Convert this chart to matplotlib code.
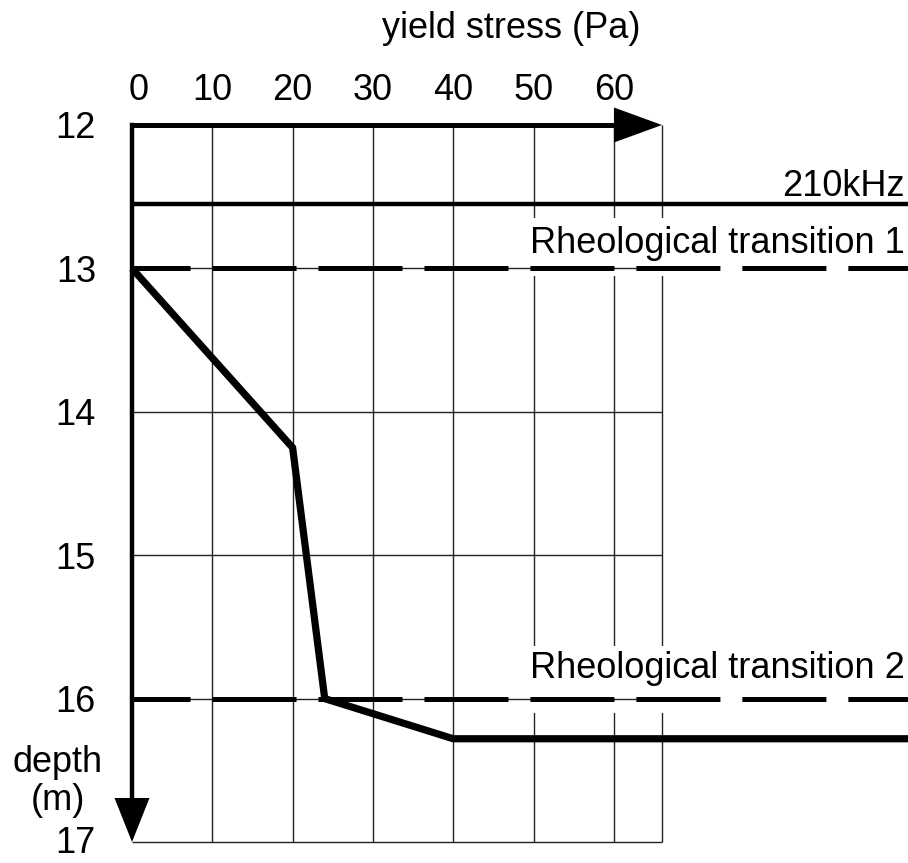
import matplotlib
matplotlib.use("Agg")
import matplotlib.pyplot as plt
from matplotlib.patches import FancyArrowPatch, Rectangle
from matplotlib.transforms import ScaledTranslation

plt.rcParams["font.family"] = ["Liberation Sans", "DejaVu Sans"]
plt.rcParams["lines.scale_dashes"] = False

# Yield stress profile versus depth
yield_stress = [0, 20, 24, 40]          # Pa
depth_m = [13.0, 14.25, 16.0, 16.28]    # m

x_ticks = [0, 10, 20, 30, 40, 50, 60]
y_ticks = [12, 13, 14, 15, 16, 17]
x_max = 66
depth_top, depth_bottom = 12, 17

# Reference horizons
echo_depth = 12.55          # 210 kHz reflector
transition_1 = 13.0
transition_2 = 16.0

W, H, DPI = 908, 863, 100
fig = plt.figure(figsize=(W / DPI, H / DPI), dpi=DPI)
ax = fig.add_axes([132 / W, 1 - 842 / H, 530 / W, 717 / H])
ax.set_xlim(0, x_max)
ax.set_ylim(depth_bottom, depth_top)
ax.set_autoscale_on(False)
for s in ax.spines.values():
    s.set_visible(False)

FS = 26

# ticks
ax.xaxis.tick_top()
ax.set_xticks(x_ticks)
ax.set_xticklabels([str(v) for v in x_ticks], fontsize=FS)
ax.set_yticks(y_ticks)
ax.set_yticklabels([str(v) for v in y_ticks], fontsize=FS)
ax.tick_params(axis="x", length=0, pad=12)
ax.tick_params(axis="y", length=0, pad=26)
first = ax.get_xticklabels()[0]
first.set_transform(first.get_transform() + ScaledTranslation(5 / 72, 0, fig.dpi_scale_trans))
last = ax.get_yticklabels()[-1]
last.set_transform(last.get_transform() + ScaledTranslation(0, 2 / 72, fig.dpi_scale_trans))

# grid
ax.vlines(x_ticks[1:] + [x_max], depth_top, depth_bottom, color="#222222",
          lw=1.0, zorder=1, clip_on=False)
ax.hlines(y_ticks[1:], 0, x_max, color="#222222", lw=1.0, zorder=3, clip_on=False)

# white boxes behind the transition labels
for y0, y1 in [(12.65, 13.05), (15.63, 16.1)]:
    ax.add_patch(Rectangle((48.6, y0), x_max + 1 - 48.6, y1 - y0,
                           facecolor="white", edgecolor="none", zorder=2,
                           clip_on=False))

# right edge of the figure, in data units
x_edge = ax.transData.inverted().transform(fig.transFigure.transform((1, 0)))[0]

# horizons
ax.plot([0, x_edge], [echo_depth, echo_depth], color="k", lw=3.2,
        solid_capstyle="butt", clip_on=False, zorder=4)
for yt in (transition_1, transition_2):
    ax.plot([0, x_edge], [yt, yt], color="k", lw=3.6,
            linestyle=(18.7, (60.5, 15.8)), clip_on=False, zorder=4)

# yield stress curve, last value held to the right edge
ax.plot(yield_stress + [x_edge], depth_m + [depth_m[-1]], color="k", lw=5.2,
        solid_joinstyle="miter", solid_capstyle="butt", clip_on=False, zorder=5)

# axes arrows
ax.plot([0, x_max - 5], [depth_top, depth_top], color="k", lw=3.6,
        solid_capstyle="projecting", zorder=6, clip_on=False)
ax.plot([0, 0], [depth_top, depth_bottom - 0.3], color="k", lw=3.2,
        solid_capstyle="projecting", zorder=6, clip_on=False)
ax.add_patch(FancyArrowPatch((0, depth_top), (x_max, depth_top),
                             arrowstyle="-|>,head_length=34.6,head_width=12.6",
                             mutation_scale=1, lw=0, color="k",
                             shrinkA=0, shrinkB=0, zorder=6, clip_on=False))
ax.add_patch(FancyArrowPatch((0, depth_top), (0, depth_bottom),
                             arrowstyle="-|>,head_length=31.7,head_width=12.6",
                             mutation_scale=1, lw=0, color="k",
                             shrinkA=0, shrinkB=0, zorder=6, clip_on=False))

# labels
def fx(px):
    return px / W

def fy(py):
    return 1 - py / H

fig.text(fx(511), fy(28), "yield stress (Pa)", fontsize=FS, ha="center", va="center")
fig.text(fx(58), fy(762), "depth", fontsize=FS, ha="center", va="center")
fig.text(fx(58), fy(800), "(m)", fontsize=FS, ha="center", va="center")
fig.text(fx(905), fy(196), "210kHz", fontsize=FS, ha="right", va="baseline")
fig.text(fx(905), fy(253), "Rheological transition 1", fontsize=FS, ha="right", va="baseline")
fig.text(fx(905), fy(678), "Rheological transition 2", fontsize=FS, ha="right", va="baseline")

fig.savefig("out.png", dpi=DPI, facecolor="white")
